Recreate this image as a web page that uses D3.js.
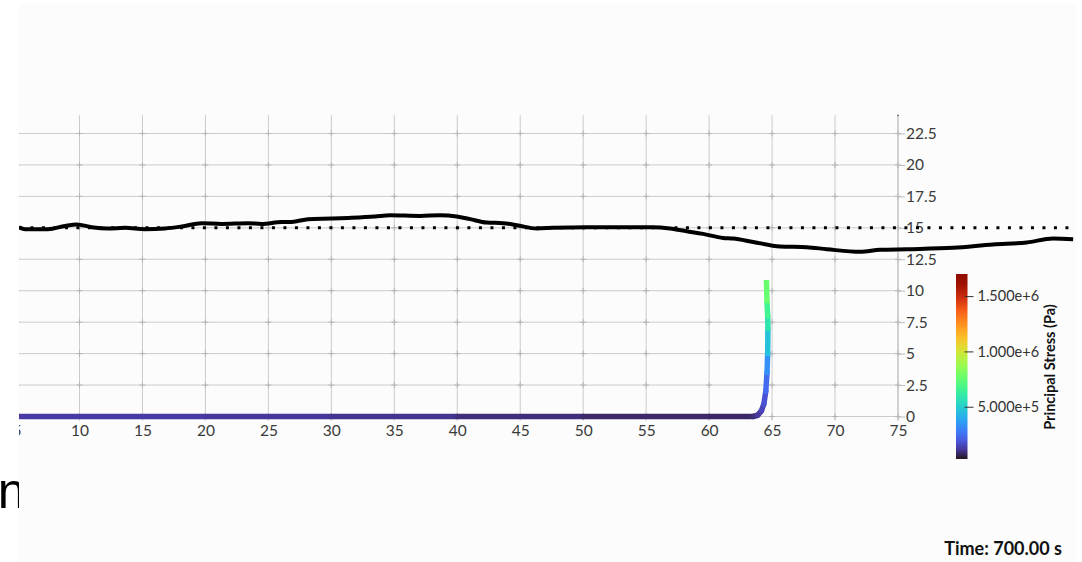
<!DOCTYPE html>
<html>
<head>
<meta charset="utf-8">
<script src="https://cdn.jsdelivr.net/npm/d3@7"></script>
<style>
  body { margin: 0; background: #ffffff; }
  svg { display: block; }
</style>
</head>
<body>
<div id="chart"></div>
<script>
// ticks
var xTicks = [5, 10, 15, 20, 25, 30, 35, 40, 45, 50, 55, 60, 65, 70, 75];
var yTicks = [0, 2.5, 5, 7.5, 10, 12.5, 15, 17.5, 20, 22.5];
var stressTicks = [5e5, 1e6, 1.5e6];
var stressRange = [27300, 1700000];

// black profile
var profileX = [5.19, 5.67, 7.5, 8.85, 9.78, 10.97, 12.26, 13.61, 15.2, 16.79, 18.12, 19.71, 21.29, 23.38,
  24.47, 26.06, 26.85, 28.15, 30.03, 31.33, 33.47, 34.66, 37.05, 38.63, 39.96, 41.02, 42.34, 43.64,
  44.73, 46.31, 47.61, 50.29, 52.93, 55.55, 56.9, 58.23, 59.52, 61.11, 61.91, 63.5, 65.64, 67.76,
  69.35, 72.0, 73.58, 75.7, 79.38, 82.56, 85.23, 87.32, 88.91];
var profileY = [15.05, 14.89, 14.89, 15.15, 15.27, 15.05, 14.95, 15.0, 14.89, 14.95, 15.11, 15.37, 15.31, 15.37,
  15.31, 15.47, 15.47, 15.69, 15.74, 15.79, 15.9, 16.0, 15.95, 16.0, 15.9, 15.69, 15.42, 15.37,
  15.21, 14.95, 15.0, 15.05, 15.05, 15.05, 14.95, 14.73, 14.52, 14.2, 14.15, 13.88, 13.52, 13.46,
  13.3, 13.09, 13.25, 13.3, 13.41, 13.68, 13.84, 14.15, 14.1];

// dotted reference level
var refLevel = 15;
var refRange = [5.19, 89];

// coloured curve: x, y, principal stress
var curveX = [5.19, 20, 30, 40, 50, 60, 63.5, 63.85, 64.15, 64.35, 64.5, 64.6, 64.65, 64.67, 64.65, 64.6, 64.55];
var curveY = [0, 0, 0, 0, 0, 0, 0, 0.1, 0.45, 1.0, 2.0, 3.5, 5.0, 7.0, 8.0, 9.0, 10.85];
var curveStress = [125000, 120000, 110000, 95000, 80000, 70000, 75000, 100000, 130000, 160000, 200000,
  280000, 380000, 550000, 620000, 700000, 830000];

var W = 1082, H = 562;
var svg = d3.select("#chart").append("svg").attr("width", W).attr("height", H);

// big clipped text on the left (behind the panel)
svg.append("text")
  .attr("x", -2.3).attr("y", 508)
  .style("font-family", "Liberation Sans, Arial, sans-serif")
  .style("font-size", "50px")
  .attr("fill", "#000")
  .text("n");

// render panel
var panel = {x: 19, y: 4, w: 1057, h: 558};
svg.append("rect")
  .attr("x", panel.x).attr("y", panel.y).attr("width", panel.w).attr("height", panel.h)
  .attr("fill", "#fbfcfb");

svg.append("clipPath").attr("id", "clip")
  .append("rect").attr("x", panel.x).attr("y", panel.y).attr("width", panel.w).attr("height", panel.h);

var g = svg.append("g").attr("clip-path", "url(#clip)");

var x = d3.scaleLinear().domain([10, 75]).range([79.5, 898]);
var y = d3.scaleLinear().domain([0, 22.5]).range([416.5, 133.5]);
var yTop = y(23.95);

var gridColor = "#cbcccb";

// grid
g.append("g").selectAll("line.v").data(xTicks).enter().append("line")
  .attr("x1", function (d) { return x(d); }).attr("x2", function (d) { return x(d); })
  .attr("y1", yTop).attr("y2", y(0) + 4)
  .attr("stroke", gridColor).attr("stroke-width", 1);

g.append("g").selectAll("line.h").data(yTicks).enter().append("line")
  .attr("x1", panel.x).attr("x2", x(75))
  .attr("y1", function (d) { return y(d); }).attr("y2", function (d) { return y(d); })
  .attr("stroke", gridColor).attr("stroke-width", 1);

// little crosses at grid intersections
var cross = [];
xTicks.forEach(function (a) { yTicks.forEach(function (b) { cross.push([a, b]); }); });
var cg = g.append("g").attr("stroke", "#b4b5b4").attr("stroke-width", 1);
cross.forEach(function (c) {
  cg.append("line").attr("x1", x(c[0]) - 3).attr("x2", x(c[0]) + 3).attr("y1", y(c[1])).attr("y2", y(c[1]));
  cg.append("line").attr("x1", x(c[0])).attr("x2", x(c[0])).attr("y1", y(c[1]) - 3).attr("y2", y(c[1]) + 3);
});

// y axis on the right
var yAxis = g.append("g")
  .attr("transform", "translate(" + x(75) + ",0)")
  .call(d3.axisRight(y).tickValues(yTicks).tickSize(7).tickPadding(1).tickFormat(d3.format("")));
yAxis.select(".domain").remove();
yAxis.append("line").attr("x1", 0).attr("x2", 0).attr("y1", yTop).attr("y2", y(0) + 4)
  .attr("stroke", "#bdbebd");
yAxis.append("line").attr("x1", -1).attr("x2", 1).attr("y1", yTop).attr("y2", yTop).attr("stroke", "#555");
yAxis.selectAll(".tick line").attr("stroke", "#bdbebd");
yAxis.selectAll(".tick text")
  .style("font-family", "Lato, sans-serif").style("font-size", "15.5px").attr("fill", "#3a3a3a");

// x axis labels
var xAxis = g.append("g")
  .attr("transform", "translate(0," + y(0) + ")")
  .call(d3.axisBottom(x).tickValues(xTicks).tickSize(0).tickPadding(8).tickFormat(d3.format("")));
xAxis.select(".domain").remove();
xAxis.selectAll(".tick text")
  .style("font-family", "Lato, sans-serif").style("font-size", "15.5px").attr("fill", "#3a3a3a");

// dotted reference line
g.append("line")
  .attr("x1", x(refRange[0])).attr("x2", x(refRange[1]))
  .attr("y1", y(refLevel)).attr("y2", y(refLevel))
  .attr("stroke", "#000").attr("stroke-width", 3)
  .attr("stroke-dasharray", "3,8.5");

// black profile
var profile = profileX.map(function (d, i) { return [d, profileY[i]]; });
g.append("path")
  .datum(profile)
  .attr("d", d3.line().x(function (d) { return x(d[0]); }).y(function (d) { return y(d[1]); }).curve(d3.curveMonotoneX))
  .attr("fill", "none").attr("stroke", "#000").attr("stroke-width", 4)
  .attr("stroke-linejoin", "round");

// coloured stress curve
var color = d3.scaleSequential(d3.interpolateTurbo).domain(stressRange);
var cgp = g.append("g");
for (var i = 0; i < curveX.length - 1; i++) {
  cgp.append("line")
    .attr("x1", x(curveX[i])).attr("y1", y(curveY[i]))
    .attr("x2", x(curveX[i + 1])).attr("y2", y(curveY[i + 1]))
    .attr("stroke", color((curveStress[i] + curveStress[i + 1]) / 2))
    .attr("stroke-width", 5.5)
    .attr("stroke-linecap", i === 0 || i === curveX.length - 2 ? "butt" : "round");
}

// colour bar
var bar = {x: 956, w: 11.5, top: 274, bottom: 459};
var s = d3.scaleLinear().domain(stressRange).range([bar.bottom, bar.top]);
var defs = svg.append("defs");
var grad = defs.append("linearGradient").attr("id", "turbo")
  .attr("x1", 0).attr("y1", 1).attr("x2", 0).attr("y2", 0);
d3.range(0, 1.0001, 0.05).forEach(function (t) {
  grad.append("stop").attr("offset", t).attr("stop-color", d3.interpolateTurbo(t));
});
svg.append("rect")
  .attr("x", bar.x).attr("y", bar.top).attr("width", bar.w).attr("height", bar.bottom - bar.top)
  .attr("fill", "url(#turbo)");

var cAxis = svg.append("g")
  .attr("transform", "translate(" + (bar.x + 8.5) + ",0)")
  .call(d3.axisRight(s).tickValues(stressTicks).tickSize(9).tickPadding(4).tickFormat(d3.format(".3e")));
cAxis.select(".domain").remove();
cAxis.selectAll(".tick line").attr("stroke", "#333");
cAxis.selectAll(".tick text")
  .style("font-family", "Lato, sans-serif").style("font-size", "14.5px").attr("fill", "#333");

svg.append("text")
  .attr("transform", "translate(1055,367) rotate(-90)")
  .attr("text-anchor", "middle")
  .style("font-family", "Lato, sans-serif").style("font-size", "14.5px").style("font-weight", "700")
  .attr("fill", "#111")
  .text("Principal Stress (Pa)");

svg.append("text")
  .attr("x", 1062).attr("y", 555)
  .attr("text-anchor", "end")
  .style("font-family", "Lato, sans-serif").style("font-size", "18px").style("font-weight", "700")
  .attr("fill", "#111")
  .text("Time: 700.00 s");
</script>
</body>
</html>
